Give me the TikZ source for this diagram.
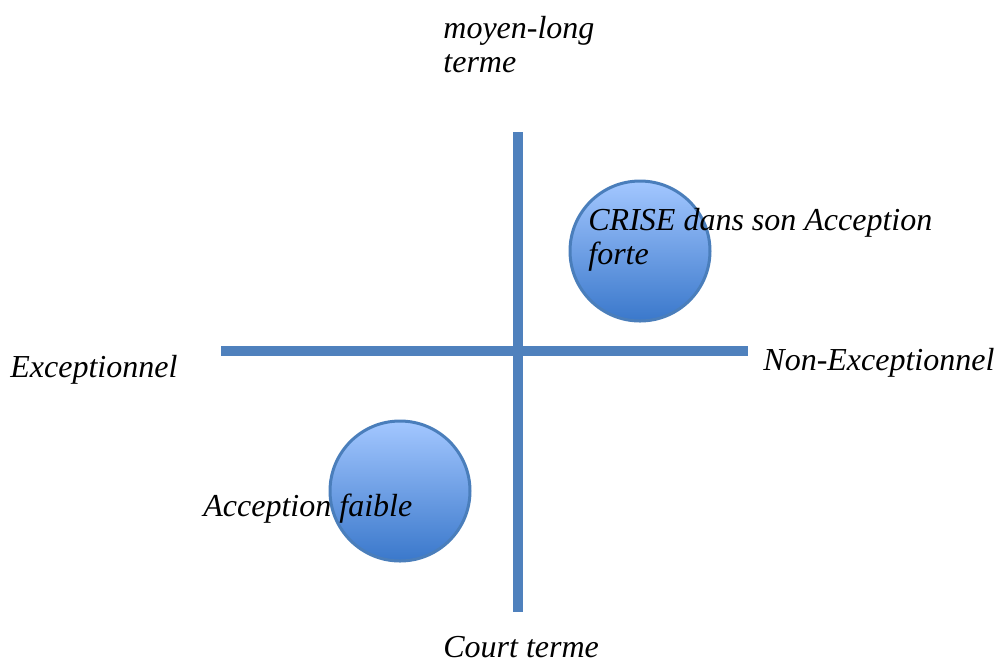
\documentclass[tikz,border=0pt]{standalone}
\usepackage{fontspec}
\setmainfont{Liberation Serif}
\usetikzlibrary{positioning}
\definecolor{axisblue}{HTML}{4F81BD}
\definecolor{ringblue}{HTML}{4A7EBB}
\definecolor{bubbletop}{HTML}{A3C7FF}
\definecolor{bubblebottom}{HTML}{3A78CB}

\begin{document}
\begin{tikzpicture}[x=0.5pt, y=-0.5pt,
    axis/.style={line width=5pt, axisblue},
    bubble/.style={circle, draw=ringblue, line width=1.5pt, minimum size=70pt,
                   top color=bubbletop, bottom color=bubblebottom, inner sep=0pt},
    label/.style={font=\fontsize{16}{17}\selectfont\itshape, inner sep=0pt,
                  anchor=base west, align=left}]
  \useasboundingbox (0,0) rectangle (997,661);

  % Bubbles
  \node[bubble] (strong) at (640,251) {};
  \node[bubble] (weak) at (400,491) {};

  % Axes
  \coordinate (top) at (518,132);
  \coordinate (bottom) at (518,612);
  \coordinate (left) at (221,351);
  \coordinate (right) at (748,351);
  \draw[axis] (top) -- (bottom);
  \draw[axis] (left) -- (right);

  % Axis labels (base = last line)
  \node[label] (longterm) at (443,72) {moyen-long\\terme};
  \node[label] (shortterm) at (443,657) {Court terme};
  \node[label] (exceptional) at (10,377) {Exceptionnel};
  \node[label] (ordinary) at (763,370) {Non-Exceptionnel};

  % Bubble labels
  \node[label] (stronglabel) at (588,264) {CRISE dans son Acception\\forte};
  \node[label] (weaklabel) at (203,516) {Acception faible};
\end{tikzpicture}
\end{document}
